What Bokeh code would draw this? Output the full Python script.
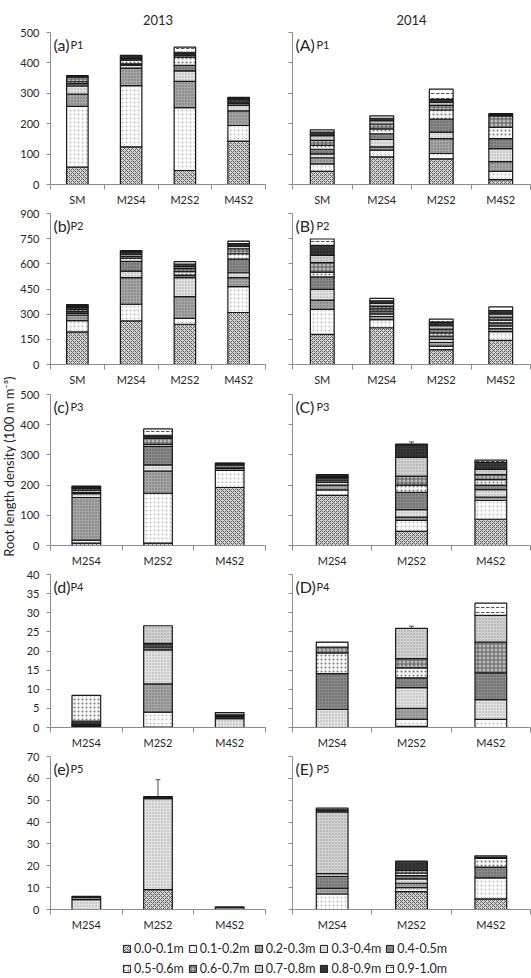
import math
from bokeh.plotting import figure
from bokeh.layouts import row, column
from bokeh.models import (Range1d, FixedTicker, Label, Legend, LegendItem, Whisker, TeeHead,
                          ColumnDataSource, CustomJSTickFormatter)
from bokeh.embed import file_html
from bokeh.resources import INLINE

FONT = "Lato"
TXT = "#262626"
AX = "#8c8c8c"

# ---------------- data ----------------
DEPTHS = ["0.0-0.1m", "0.1-0.2m", "0.2-0.3m", "0.3-0.4m", "0.4-0.5m",
          "0.5-0.6m", "0.6-0.7m", "0.7-0.8m", "0.8-0.9m", "0.9-1.0m"]
CATS4 = ["SM", "M2S4", "M2S2", "M4S2"]
CATS3 = ["M2S4", "M2S2", "M4S2"]
YEARS = ["2013", "2014"]
PERIODS = ["P1", "P2", "P3", "P4", "P5"]
TAGS_2013 = ["(a)", "(b)", "(c)", "(d)", "(e)"]
TAGS_2014 = ["(A)", "(B)", "(C)", "(D)", "(E)"]
Y_MAX = [500, 900, 500, 40, 70]
Y_STEP = [100, 150, 100, 5, 10]
Y_TITLE = "Root length density (100 m m\u207b\u00b3)"

# one list per category, values per depth layer (bottom -> top)
P1_2013 = [[57, 200, 40, 27, 8, 6, 15, 3, 2, 0],
           [124, 201, 58, 10, 4, 12, 5, 3, 5, 3],
           [46, 207, 86, 35, 18, 27, 6, 5, 5, 17],
           [143, 51, 48, 18, 7, 5, 6, 3, 5, 1]]
P1_2014 = [[43, 25, 20, 13, 15, 13, 16, 16, 11, 8],
           [91, 22, 11, 24, 19, 16, 16, 11, 8, 8],
           [84, 18, 49, 21, 43, 30, 15, 10, 10, 34],
           [16, 27, 32, 43, 33, 37, 38, 3, 2, 2]]
P2_2013 = [[194, 68, 33, 10, 10, 12, 10, 6, 8, 6],
           [260, 99, 159, 39, 58, 19, 11, 12, 14, 8],
           [240, 35, 130, 113, 15, 20, 18, 12, 15, 15],
           [310, 154, 54, 29, 81, 32, 30, 15, 15, 15]]
P2_2014 = [[180, 148, 56, 64, 74, 29, 56, 44, 59, 38],
           [219, 49, 18, 16, 16, 14, 16, 16, 16, 14],
           [89, 20, 22, 18, 20, 20, 22, 20, 22, 17],
           [144, 52, 18, 16, 18, 16, 18, 20, 20, 21]]
P3_2013 = [[8, 10, 141, 13, 4, 7, 5, 2, 5, 2],
           [8, 165, 73, 21, 61, 7, 20, 5, 5, 21],
           [192, 57, 6, 2, 10, 2, 1, 1, 1, 1]]
P3_2014 = [[166, 18, 16, 10, 7, 6, 4, 3, 3, 2],
           [47, 36, 11, 25, 57, 24, 30, 62, 40, 4],
           [87, 62, 11, 25, 15, 18, 17, 17, 23, 8]]
P4_2013 = [[0.3, 0.2, 0.3, 0.4, 0.5, 6.7, 0, 0, 0, 0],
           [0.1, 3.9, 7.4, 8.9, 0.8, 0.5, 0.4, 4.6, 0, 0],
           [0, 0, 0, 2.3, 0.4, 0.3, 0.3, 0.6, 0, 0]]
P4_2014 = [[0, 0, 0, 4.7, 9.4, 5.4, 1.5, 0, 0, 1.3],
           [0.3, 1.8, 2.9, 5.4, 2.6, 2.6, 2.4, 7.9, 0, 0],
           [0, 2.1, 0, 5.2, 7.0, 0, 8.0, 7.0, 0, 3.2]]
P5_2013 = [[0, 0, 0, 4.5, 1.2, 0, 0, 0.3, 0, 0],
           [9.1, 0, 0, 41.6, 0, 0.5, 0.4, 0, 0, 0],
           [0, 0, 0, 0.8, 0.4, 0, 0, 0, 0, 0]]
P5_2014 = [[0, 7.1, 2.6, 0, 5.5, 1.2, 0, 28.2, 1.0, 0.8],
           [8.2, 1.8, 2.0, 2.0, 1.5, 1.2, 1.2, 0, 4.2, 0],
           [4.9, 9.6, 0, 0, 4.9, 4.0, 0, 0, 0.6, 0.6]]

# error bars: (category index, layer index, standard error)
E_P1_2013 = [(0, 0, 4), (0, 1, 18), (1, 1, 10), (1, 2, 10), (2, 0, 5), (2, 1, 30),
             (2, 2, 7), (3, 0, 21), (3, 2, 5)]
E_P1_2014 = [(0, 0, 3), (1, 0, 4), (1, 7, 5), (2, 0, 4), (2, 7, 8), (3, 0, 3)]
E_P2_2013 = [(0, 0, 15), (1, 0, 45), (1, 1, 23), (2, 0, 35), (2, 2, 14), (3, 0, 29), (3, 1, 19)]
E_P2_2014 = [(0, 0, 8), (1, 0, 6), (2, 0, 6), (3, 0, 6)]
E_P3_2013 = [(1, 0, 3), (1, 1, 3), (2, 0, 3)]
E_P3_2014 = [(0, 0, 18), (1, 9, 7), (2, 0, 12)]
E_P4_2013 = [(1, 1, 0.6)]
E_P4_2014 = [(1, 7, 0.6), (0, 4, 0.3)]
E_P5_2013 = [(1, 6, 7.8)]
E_P5_2014 = [(0, 8, 0.5), (2, 0, 0.5)]

ROWS = [
    (CATS4, P1_2013, E_P1_2013, P1_2014, E_P1_2014),
    (CATS4, P2_2013, E_P2_2013, P2_2014, E_P2_2014),
    (CATS3, P3_2013, E_P3_2013, P3_2014, E_P3_2014),
    (CATS3, P4_2013, E_P4_2013, P4_2014, E_P4_2014),
    (CATS3, P5_2013, E_P5_2013, P5_2014, E_P5_2014),
]

# ---------------- styles ----------------
L_FILL = ["#d6d6d6", "#ffffff", "#a6a6a6", "#e2e2e2", "#8a8a8a",
          "#f6f6f6", "#bdbdbd", "#d2d2d2", "#3a3a3a", "#ffffff"]
L_HATCH = ["diagonal_cross", "dot", "dot", "dot", "dot",
           "dot", "cross", "dot", "dot", "horizontal_dash"]
L_HCOL = ["#646464", "#bcbcbc", "#6a6a6a", "#a8a8a8", "#555555",
          "#7a7a7a", "#5a5a5a", "#9a9a9a", "#1a1a1a", "#555555"]
L_HSCALE = [4, 4, 3, 3, 3, 4, 4, 3, 3, 5]
BAR_W = 0.4

# geometry: (fig height, border top, border bottom) per row; (width, border left, border right)
ROW_GEOM = [(208, 32, 21), (180, 5, 21), (181, 6, 21), (182, 5, 21), (182, 5, 21)]
LEGEND_H = 45
YLAB_W = 16
LEFT_GEOM = (255, 34, 6)
RIGHT_GEOM = (260, 21, 1)


def make_panel(cats, vals, errs, ymax, ystep, tag, period, geom_h, geom_w, show_ylab, title=None):
    n = len(cats)
    h, bt, bb = geom_h
    w, bl, br = geom_w
    p = figure(width=w, height=h, x_range=Range1d(0, n), y_range=Range1d(0, ymax),
               output_backend="svg", toolbar_location=None,
               min_border_left=bl, min_border_right=br, min_border_top=bt, min_border_bottom=bb)
    p.outline_line_color = None
    p.grid.visible = False

    cum = [0.0] * n
    for k in range(10):
        xs, bots, tops = [], [], []
        for i in range(n):
            v = vals[i][k]
            if v > 0:
                xs.append(i + 0.5)
                bots.append(cum[i])
                tops.append(cum[i] + v)
            cum[i] += v
        if xs:
            p.vbar(x=xs, width=BAR_W, bottom=bots, top=tops,
                   fill_color=L_FILL[k], hatch_pattern=L_HATCH[k], hatch_color=L_HCOL[k],
                   hatch_scale=L_HSCALE[k], hatch_weight=1,
                   line_color="#1a1a1a", line_width=1.2)

    if errs:
        ex, lo, hi = [], [], []
        for (ci, li, e) in errs:
            top = sum(vals[ci][:li + 1])
            ex.append(ci + 0.5)
            lo.append(top)
            hi.append(top + e)
        p.add_layout(Whisker(source=ColumnDataSource(dict(x=ex, lo=lo, hi=hi)),
                             base="x", lower="lo", upper="hi", line_color="#505050", line_width=1,
                             upper_head=TeeHead(size=5, line_color="#505050", line_width=1),
                             lower_head=None))

    xa = p.xaxis[0]
    xa.ticker = FixedTicker(ticks=[i + 0.5 for i in range(n)], minor_ticks=list(range(n + 1)))
    xa.formatter = CustomJSTickFormatter(args=dict(cats=cats),
                                         code="return cats[Math.floor(tick)] || '';")
    xa.axis_line_color = AX
    xa.major_tick_line_color = None
    xa.major_tick_out = 0
    xa.major_tick_in = 0
    xa.minor_tick_line_color = AX
    xa.minor_tick_out = 5
    xa.minor_tick_in = 0
    xa.major_label_standoff = 3
    xa.major_label_text_font = FONT
    xa.major_label_text_font_size = "11px"
    xa.major_label_text_color = TXT

    ya = p.yaxis[0]
    ya.ticker = FixedTicker(ticks=list(range(0, ymax + 1, ystep)), minor_ticks=[])
    ya.axis_line_color = AX
    ya.major_tick_line_color = AX
    ya.major_tick_out = 4
    ya.major_tick_in = 0
    ya.minor_tick_line_color = None
    ya.major_label_standoff = 7
    ya.major_label_text_font = FONT
    ya.major_label_text_font_size = "11px"
    ya.major_label_text_color = TXT
    if not show_ylab:
        ya.formatter = CustomJSTickFormatter(code="return '';")

    upper = tag.upper() == tag
    p.add_layout(Label(x=0, y=ymax, x_offset=3, y_offset=-12, text=tag,
                       text_font=FONT, text_font_size="16px", text_color=TXT,
                       text_baseline="alphabetic"))
    p.add_layout(Label(x=0, y=ymax, x_offset=24 if upper else 20, y_offset=-12, text=period,
                       text_font=FONT, text_font_size="11px", text_color=TXT,
                       text_baseline="alphabetic"))

    if title:
        p.title.text = title
        p.title.align = "center"
        p.title.text_font = FONT
        p.title.text_font_size = "13px"
        p.title.text_font_style = "normal"
        p.title.text_color = TXT
        p.title.standoff = 15
    return p


rows = []
for r, (cats, v13, e13, v14, e14) in enumerate(ROWS):
    left = make_panel(cats, v13, e13, Y_MAX[r], Y_STEP[r], TAGS_2013[r], PERIODS[r],
                      ROW_GEOM[r], LEFT_GEOM, True, YEARS[0] if r == 0 else None)
    right = make_panel(cats, v14, e14, Y_MAX[r], Y_STEP[r], TAGS_2014[r], PERIODS[r],
                       ROW_GEOM[r], RIGHT_GEOM, False, YEARS[1] if r == 0 else None)
    rows.append(row(left, right))

# legend figure (proxy renderers carry the layer styles, hidden from view)
lg = figure(width=LEFT_GEOM[0] + RIGHT_GEOM[0], height=LEGEND_H, x_range=Range1d(0, 1), y_range=Range1d(0, 1),
            output_backend="svg", toolbar_location=None, min_border=0,
            x_axis_location=None, y_axis_location=None)
lg.outline_line_color = None
lg.grid.visible = False
rends = []
for k in range(10):
    rr = lg.vbar(x=[0], width=[0], top=[0], bottom=[0],
                 fill_color=L_FILL[k], hatch_pattern=L_HATCH[k], hatch_color=L_HCOL[k],
                 hatch_scale=L_HSCALE[k], hatch_weight=1,
                 line_color="#1a1a1a", line_width=1)
    rr.visible = False
    rends.append(rr)
for j, loc in enumerate([(106, 22), (106, 2)]):
    leg = Legend(items=[LegendItem(label=DEPTHS[k], renderers=[rends[k]]) for k in range(5 * j, 5 * j + 5)],
                 orientation="horizontal", location=loc,
                 glyph_width=9, glyph_height=9, label_standoff=3, spacing=4,
                 label_height=14, padding=0, margin=0,
                 label_text_font=FONT, label_text_font_size="12.5px", label_text_color=TXT,
                 background_fill_alpha=0, border_line_color=None)
    lg.add_layout(leg)

# y-label figure
total_h = sum(g[0] for g in ROW_GEOM) + LEGEND_H
yl = figure(width=YLAB_W, height=total_h, x_range=Range1d(0, 1), y_range=Range1d(0, 1),
            output_backend="svg", toolbar_location=None, min_border=0,
            x_axis_location=None, y_axis_location=None)
yl.outline_line_color = None
yl.grid.visible = False
yl.add_layout(Label(x=8, y=512, x_units="screen", y_units="screen",
                    text=Y_TITLE, angle=math.pi / 2,
                    text_align="center", text_baseline="middle",
                    text_font=FONT, text_font_size="13px", text_color=TXT))

layout = row(yl, column(*rows, lg))

open("out.html", "w").write(file_html(layout, INLINE))
